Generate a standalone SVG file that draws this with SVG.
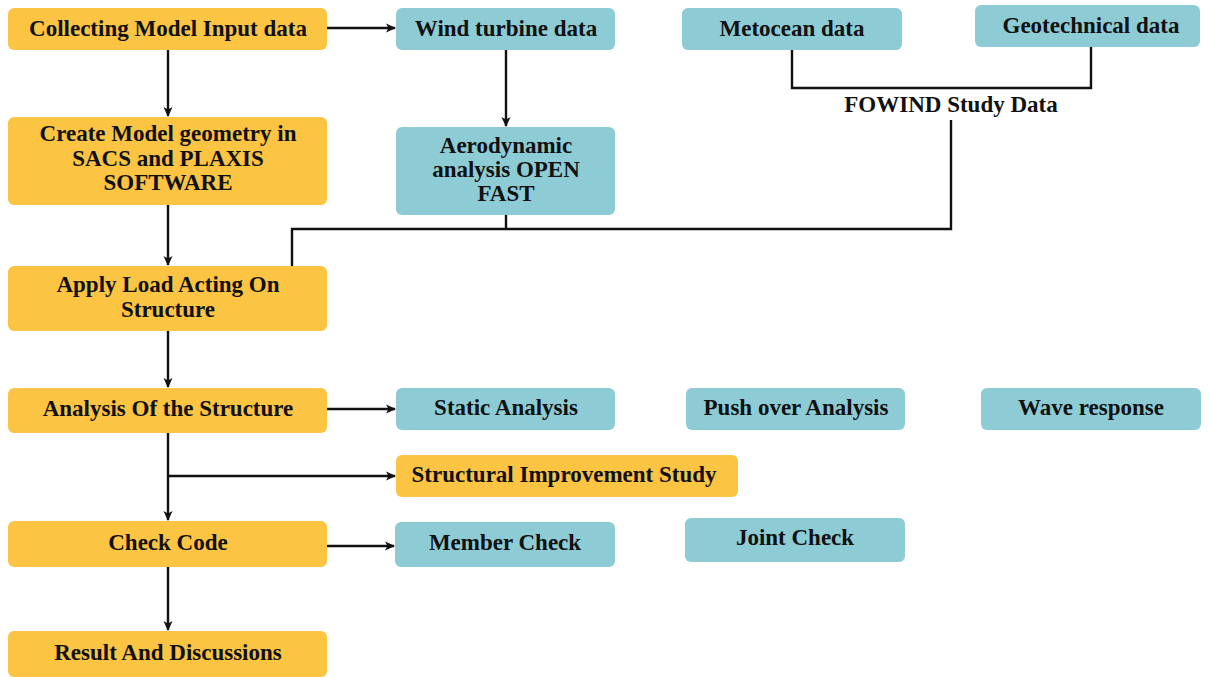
<svg xmlns="http://www.w3.org/2000/svg" width="1209" height="677" viewBox="0 0 1209 677">
<style>
.o{fill:#FBC443}
.b{fill:#8DCBD5}
text{font-family:"Liberation Serif","Times New Roman",serif;font-weight:bold;font-size:23px;fill:#111;text-anchor:middle;dominant-baseline:central}
.c{fill:none;stroke:#111;stroke-width:2.4}
</style>
<defs>
<marker id="ar" markerWidth="12" markerHeight="12" refX="10" refY="6" orient="auto" markerUnits="userSpaceOnUse">
<path d="M1,1.5 L11,6 L1,10.5 L3.5,6 Z" fill="#111"/>
</marker>
</defs>
<rect width="1209" height="677" fill="#fff"/>
<g id="connectors">
<path class="c" d="M327,28 H395" marker-end="url(#ar)"/>
<path class="c" d="M168,50 V116" marker-end="url(#ar)"/>
<path class="c" d="M506,50 V126" marker-end="url(#ar)"/>
<path class="c" d="M792,50 V88 H1091 V47"/>
<path class="c" d="M951,120 V229 H292 V266"/>
<path class="c" d="M506,215 V229"/>
<path class="c" d="M168,205 V265" marker-end="url(#ar)"/>
<path class="c" d="M168,331 V387" marker-end="url(#ar)"/>
<path class="c" d="M327,409 H395" marker-end="url(#ar)"/>
<path class="c" d="M168,433 V520" marker-end="url(#ar)"/>
<path class="c" d="M168,476 H395" marker-end="url(#ar)"/>
<path class="c" d="M327,546 H394" marker-end="url(#ar)"/>
<path class="c" d="M168,567 V630" marker-end="url(#ar)"/>
</g>
<g id="n1"><rect class="o" x="8" y="8" width="319" height="42" rx="6"/><text x="168" y="28">Collecting Model Input data</text></g>
<g id="n2"><rect class="o" x="8" y="117" width="319" height="88" rx="6"/><text x="168" y="133">Create Model geometry in</text><text x="168" y="158">SACS and PLAXIS</text><text x="168" y="182">SOFTWARE</text></g>
<g id="n3"><rect class="o" x="8" y="266" width="319" height="65" rx="6"/><text x="168" y="284">Apply Load Acting On</text><text x="168" y="309">Structure</text></g>
<g id="n4"><rect class="o" x="8" y="388" width="319" height="45" rx="6"/><text x="168" y="408">Analysis Of the Structure</text></g>
<g id="n5"><rect class="o" x="8" y="521" width="319" height="46" rx="6"/><text x="168" y="542">Check Code</text></g>
<g id="n6"><rect class="o" x="8" y="631" width="319" height="46" rx="6"/><text x="168" y="652">Result And Discussions</text></g>
<g id="n7"><rect class="b" x="396" y="8" width="219" height="42" rx="6"/><text x="506" y="28">Wind turbine data</text></g>
<g id="n8"><rect class="b" x="396" y="127" width="219" height="88" rx="6"/><text x="506" y="145">Aerodynamic</text><text x="506" y="169">analysis OPEN</text><text x="506" y="193">FAST</text></g>
<g id="n9"><rect class="b" x="682" y="8" width="220" height="42" rx="6"/><text x="792" y="28">Metocean data</text></g>
<g id="n10"><rect class="b" x="975" y="5" width="225" height="42" rx="6"/><text x="1091" y="25">Geotechnical data</text></g>
<g id="n11"><text x="951" y="104">FOWIND Study Data</text></g>
<g id="n12"><rect class="b" x="396" y="388" width="219" height="42" rx="6"/><text x="506" y="407">Static Analysis</text></g>
<g id="n13"><rect class="b" x="686" y="388" width="219" height="42" rx="6"/><text x="796" y="407">Push over Analysis</text></g>
<g id="n14"><rect class="b" x="981" y="388" width="220" height="42" rx="6"/><text x="1091" y="407">Wave response</text></g>
<g id="n15"><rect class="o" x="396" y="455" width="342" height="42" rx="6"/><text x="564" y="474">Structural Improvement Study</text></g>
<g id="n16"><rect class="b" x="395" y="522" width="220" height="45" rx="6"/><text x="505" y="542">Member Check</text></g>
<g id="n17"><rect class="b" x="685" y="518" width="220" height="44" rx="6"/><text x="795" y="537">Joint Check</text></g>
</svg>
